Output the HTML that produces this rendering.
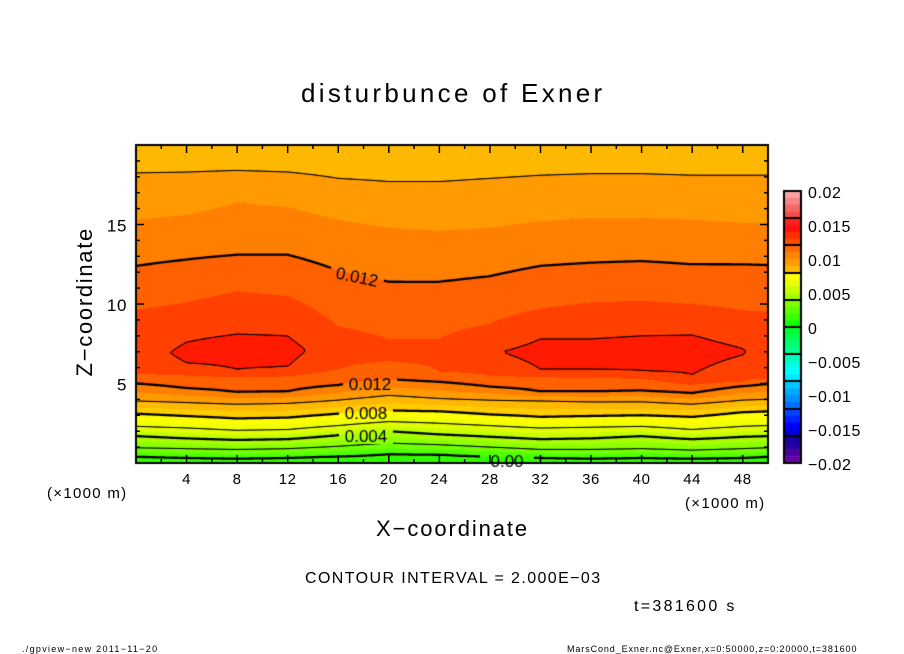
<!DOCTYPE html>
<html><head><meta charset="utf-8">
<style>
html,body{margin:0;padding:0;background:#fff;}
#wrap{position:relative;width:904px;height:654px;overflow:hidden;font-family:"Liberation Sans",sans-serif;}
canvas,svg{position:absolute;left:0;top:0;}
</style></head>
<body>
<div id="wrap">
<canvas id="cv" width="904" height="654"></canvas>
<svg id="sv" width="904" height="654">
  <text x="301" y="102" font-size="26" letter-spacing="3.3">disturbunce of Exner</text>
  <text transform="translate(92,227) rotate(-90)" text-anchor="end" font-size="22" letter-spacing="1.7">Z−coordinate</text>
  <text x="376" y="536" font-size="22" letter-spacing="1.9">X−coordinate</text>
  <text x="47" y="498" font-size="15" letter-spacing="1.3">(×1000 m)</text>
  <text x="685" y="508" font-size="15" letter-spacing="1.3">(×1000 m)</text>
  <text x="305" y="583" font-size="16" letter-spacing="1.4">CONTOUR INTERVAL = 2.000E−03</text>
  <text x="634" y="611" font-size="16" letter-spacing="2.3">t=381600 s</text>
  <text x="22" y="652" font-size="9" letter-spacing="1.3">./gpview−new  2011−11−20</text>
  <text x="567" y="652" font-size="9" letter-spacing="0.9">MarsCond_Exner.nc@Exner,x=0:50000,z=0:20000,t=381600</text>
  <g id="axes"></g>
</svg>
</div>
<script>
// ---- data ----
const xs      = [0,4,8,12,16,20,24,28,32,36,40,44,48,50];
const h000    = [0.4,0.35,0.3,0.35,0.45,0.6,0.55,0.45,0.35,0.3,0.35,0.3,0.35,0.4];
const h002    = [0.95,0.9,0.85,0.9,1.05,1.25,1.15,1.0,0.85,0.85,0.9,0.8,0.9,0.95];
const h004    = [1.7,1.55,1.45,1.5,1.75,2.0,1.8,1.65,1.5,1.55,1.7,1.5,1.65,1.7];
const h006    = [2.3,2.2,2.05,2.1,2.35,2.6,2.5,2.35,2.2,2.25,2.3,2.1,2.3,2.35];
const h008    = [3.1,2.95,2.8,2.85,3.1,3.3,3.25,3.05,2.9,2.95,3.0,2.9,3.2,3.25];
const h010    = [3.9,3.8,3.7,3.75,3.95,4.25,4.05,3.95,3.9,3.85,3.85,3.7,3.95,4.0];
const h012    = [5.0,4.7,4.45,4.5,4.9,5.25,5.1,4.8,4.5,4.5,4.55,4.4,4.85,5.0];
const h013lo  = [5.6,5.5,5.4,5.45,5.9,6.4,5.75,5.5,5.4,5.35,5.3,4.9,5.1,5.3];
const h014lo  = [null,6.3,5.9,6.06,null,null,null,null,5.9,5.9,5.8,5.55,6.8,null];
const zPeak   = [7.0,6.9,7.0,7.0,7.2,7.4,7.4,7.0,6.85,6.9,6.9,6.8,7.0,6.9];
const vPeak   = [0.0135,0.01425,0.0146,0.0143,0.0135,0.0133,0.0134,0.0139,0.01435,0.0144,0.0145,0.0145,0.01405,0.0137];
const h014hi  = [null,7.6,8.1,8.0,null,null,null,null,7.8,7.8,8.0,8.05,7.2,null];
const h013hi  = [9.6,10.1,10.8,10.5,8.6,7.8,7.8,8.75,9.7,10.1,10.2,10.0,9.6,9.5];
const h012hi  = [12.4,12.8,13.1,13.1,12.1,11.4,11.4,11.75,12.4,12.6,12.7,12.5,12.5,12.45];
const h011hi  = [15.3,15.6,16.4,16.1,15.3,14.8,14.6,14.8,15.2,15.4,15.4,15.3,15.1,15.1];
const h010hi  = [18.25,18.3,18.4,18.3,17.9,17.7,17.7,17.9,18.1,18.2,18.2,18.1,18.1,18.1];
const bottomVal = -0.0004, topVal = 0.0093;
const contourLevels = [0,0.002,0.004,0.006,0.008,0.010,0.012,0.014];
const xTicks = [4,8,12,16,20,24,28,32,36,40,44,48];
const zTicks = [5,10,15];
const cbarTicks = [0.02,0.015,0.01,0.005,0,-0.005,-0.01,-0.015,-0.02];
const cbarLabels = ["0.02","0.015","0.01","0.005","0","−0.005","−0.01","−0.015","−0.02"];
const bandColors = { // index = floor(v/0.001)
 "-5":"#00ff80","-4":"#00ff60","-3":"#00ff40","-2":"#10ff10","-1":"#30ff00","0":"#50ff00","1":"#70ff00","2":"#8cff00",
 "3":"#a8ff00","4":"#c4ff00","5":"#e0ff00","6":"#f2ff00","7":"#ffff00","8":"#ffcc00","9":"#ffb800",
 "10":"#ff9a00","11":"#ff8000","12":"#ff6000","13":"#ff4000","14":"#ff1a00","15":"#ff1010"};
const cbarColors = ["#f9a4a4","#f78585","#f56666","#f54a4a","#ff2020","#ff1010","#ff3000","#ff4c00",
 "#ff6a00","#ff8400","#ff9c00","#ffb800","#ffff00","#e8ff00","#ccff00","#a8ff00",
 "#80ff00","#5cff00","#38ff00","#10ff00","#00ff30","#00ff50","#00ff70","#00ff90",
 "#00ffc0","#00ffe0","#00ffff","#00eaff","#00c8ff","#00aaff","#0090ff","#0070ff",
 "#0044ff","#0022ff","#0000ff","#0000d8","#1800a8","#2800a0","#4800a0","#6800a8"];

// ---- axes ----
const X0=136,X1=768,Y0=145,Y1=463;
const px = x => X0 + x*(X1-X0)/50;
const pz = z => Y1 - z*(Y1-Y0)/20;

function nodeKnots(i){
  const k=[[0,bottomVal],[h000[i],0],[h002[i],.002],[h004[i],.004],[h006[i],.006],[h008[i],.008],[h010[i],.010],[h012[i],.012],[h013lo[i],.013]];
  if(h014lo[i]!==null && vPeak[i]>0.014) k.push([h014lo[i],.014]);
  k.push([zPeak[i],vPeak[i]]);
  if(h014hi[i]!==null && vPeak[i]>0.014) k.push([h014hi[i],.014]);
  k.push([h013hi[i],.013],[h012hi[i],.012],[h011hi[i],.011],[h010hi[i],.010],[20,topVal]);
  return k;
}
function evalKnots(k,z){
  if(z<=k[0][0]) return k[0][1];
  for(let j=1;j<k.length;j++){ if(z<=k[j][0]){ const a=k[j-1],b=k[j]; const t=(z-a[0])/((b[0]-a[0])||1e-9); return a[1]+t*(b[1]-a[1]); } }
  return k[k.length-1][1];
}
const knots = xs.map((_,i)=>nodeKnots(i));
function field(x,z){
  let i=0; while(i<xs.length-2 && x>xs[i+1]) i++;
  const t=Math.max(0,Math.min(1,(x-xs[i])/(xs[i+1]-xs[i])));
  return evalKnots(knots[i],z)*(1-t)+evalKnots(knots[i+1],z)*t;
}
function hexRGB(h){return [parseInt(h.slice(1,3),16),parseInt(h.slice(3,5),16),parseInt(h.slice(5,7),16)];}
function colorOf(v){ let idx=Math.floor(v/0.001+1e-9); idx=Math.max(-5,Math.min(15,idx)); return hexRGB(bandColors[String(idx)]); }

const cv=document.getElementById('cv'); const ctx=cv.getContext('2d');
const W=X1-X0, H=Y1-Y0;
const img=ctx.createImageData(W,H);
for(let yy=0;yy<H;yy++){ const z=(H-yy-0.5)*20/H;
  for(let xx=0;xx<W;xx++){ const x=(xx+0.5)*50/W; const c=colorOf(field(x,z)); const o=(yy*W+xx)*4;
    img.data[o]=c[0];img.data[o+1]=c[1];img.data[o+2]=c[2];img.data[o+3]=255; } }
ctx.putImageData(img,X0,Y0);
const off=document.createElement('canvas'); off.width=W; off.height=H; off.getContext('2d').putImageData(img,0,0);

// contours via marching squares
const S=2, nx=Math.floor(W/S)+1, nz=Math.floor(H/S)+1;
const G=[]; for(let j=0;j<nz;j++){G.push([]); for(let i=0;i<nx;i++){G[j].push(field(i*S*50/W, 20-(j*S)*20/H));}}
ctx.save(); ctx.beginPath(); ctx.rect(X0,Y0,W,H); ctx.clip();
contourLevels.forEach(L=>{
  const thick = Math.abs(Math.round(L*1000)%4)===0;
  ctx.beginPath(); ctx.strokeStyle='#000'; ctx.lineWidth=thick?2.3:1; ctx.lineCap='round';
  const ip=(a,b)=>(L-a)/((b-a)||1e-12);
  for(let j=0;j<nz-1;j++)for(let i=0;i<nx-1;i++){
    const a=G[j][i],b=G[j][i+1],c=G[j+1][i+1],d=G[j+1][i];
    const x0=X0+i*S,y0=Y0+j*S; const pts=[];
    if((a>L)!==(b>L)) pts.push([x0+S*ip(a,b),y0]);
    if((b>L)!==(c>L)) pts.push([x0+S,y0+S*ip(b,c)]);
    if((d>L)!==(c>L)) pts.push([x0+S*ip(d,c),y0+S]);
    if((a>L)!==(d>L)) pts.push([x0,y0+S*ip(a,d)]);
    for(let k=0;k+1<pts.length;k+=2){ctx.moveTo(pts[k][0],pts[k][1]);ctx.lineTo(pts[k+1][0],pts[k+1][1]);}
  }
  ctx.stroke();
});
ctx.restore();
// contour labels
const labels=[["0.012",357,277,0.2],["0.012",370,384,0],["0.008",366,413,0],["0.004",366,436,0],["0.00",507,461,0]];
labels.forEach(l=>{
  ctx.save(); ctx.translate(l[1],l[2]); ctx.rotate(l[3]);
  ctx.beginPath(); ctx.rect(-27,-8,54,16); ctx.clip();
  ctx.rotate(-l[3]); ctx.translate(-l[1],-l[2]);
  ctx.drawImage(off,X0,Y0);
  ctx.restore();
  ctx.save(); ctx.translate(l[1],l[2]); ctx.rotate(l[3]);
  ctx.font='17px "Liberation Sans", sans-serif'; ctx.fillStyle='#000'; ctx.textAlign='center'; ctx.textBaseline='middle';
  ctx.fillText(l[0],0,1); ctx.restore();
});
// frame
ctx.strokeStyle='#000'; ctx.lineWidth=2; ctx.strokeRect(X0,Y0,W,H);
// colorbar
const CBX=784,CBW=17,CBY0=191,CBY1=463, sh=(CBY1-CBY0)/cbarColors.length;
cbarColors.forEach((c,k)=>{ctx.fillStyle=c; ctx.fillRect(CBX,CBY0+k*sh,CBW,sh+0.5);});
ctx.fillStyle='#000';
for(let k=4;k<cbarColors.length;k+=4){ctx.fillRect(CBX,Math.round(CBY0+k*sh)-1,CBW,2);}
ctx.lineWidth=2; ctx.strokeRect(CBX,CBY0,CBW,CBY1-CBY0);

// svg ticks & labels
const NS='http://www.w3.org/2000/svg'; const ax=document.getElementById('axes');
function ln(x1,y1,x2,y2,w,name){const e=document.createElementNS(NS,'line');e.setAttribute('x1',x1);e.setAttribute('y1',y1);e.setAttribute('x2',x2);e.setAttribute('y2',y2);e.setAttribute('stroke','#000');e.setAttribute('stroke-width',w);


ax.appendChild(e);}
function tx(s,x,y,size,anchor,name){const e=document.createElementNS(NS,'text');e.textContent=s;e.setAttribute('x',x);e.setAttribute('y',y);e.setAttribute('font-size',size);e.setAttribute('text-anchor',anchor);e.setAttribute('letter-spacing','0.6');


ax.appendChild(e);}
for(let x=2;x<50;x+=2){const maj=x%4===0, L=maj?8:4;
  ln(px(x),Y1,px(x),Y1-L,1.5,'x-tick'); ln(px(x),Y0,px(x),Y0+L,1.5,'x-tick-top');}
for(let z=1;z<20;z++){const maj=z%5===0, L=maj?8:4;
  ln(X0,pz(z),X0+L,pz(z),1.5,'z-tick'); ln(X1,pz(z),X1-L,pz(z),1.5,'z-tick-right');}
xTicks.forEach(x=>tx(String(x),px(x),484,15,'middle','x-tick-label'));
zTicks.forEach(z=>tx(String(z),127,pz(z)+7,17,'end','z-tick-label'));
cbarTicks.forEach((v,k)=>tx(cbarLabels[k],808,CBY0+(0.02-v)/0.04*(CBY1-CBY0)+7,16,'start','colorbar-label'));
</script>
</body></html>
